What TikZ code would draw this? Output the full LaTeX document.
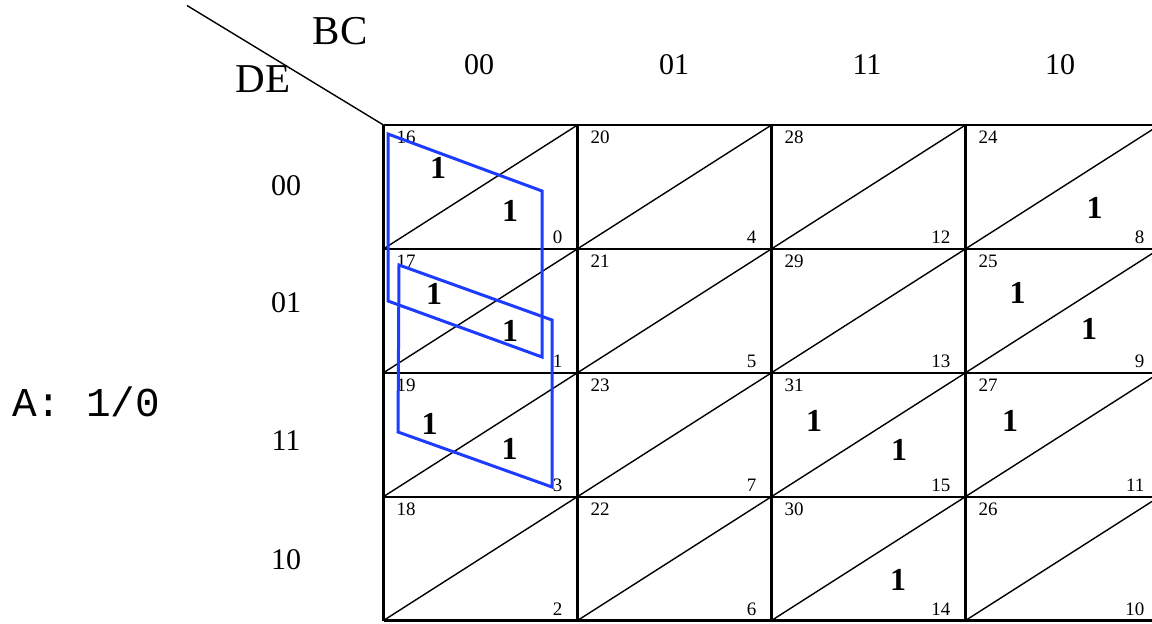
\documentclass[tikz,border=0pt]{standalone}
\usepackage{fontspec}
\setmainfont{Liberation Serif}
\newfontfamily\kmono{Liberation Mono}
\definecolor{kblue}{RGB}{30,60,255}
\begin{document}
\begin{tikzpicture}[x=1pt,y=-1pt,
  lbl/.style={inner sep=0pt, font=\fontsize{30}{30}\selectfont},
  big/.style={inner sep=0pt, font=\fontsize{41}{41}\selectfont},
  idx/.style={inner sep=0pt, font=\fontsize{19}{19}\selectfont},
  one/.style={inner sep=0pt, font=\fontsize{32}{32}\selectfont\bfseries},
  gridline/.style={line width=2.1pt},
  diagline/.style={line width=1.4pt},
  grp/.style={draw=kblue, line width=3pt, line join=miter}]
\fill[white] (0,0) rectangle (1152,624);
\clip (0,0) rectangle (1152,624);
% header diagonal
\coordinate (hs) at (187,5.5);
\coordinate (g00) at (383.5,125);
\draw[diagline] (hs) -- (g00);
\node[big] (bc) at (340,31) {BC};
\node[big] (de) at (263,79.5) {DE};
% column headers
\node[lbl] (c00) at (479,65) {00};
\node[lbl] (c01) at (674,65) {01};
\node[lbl] (c11) at (867,65) {11};
\node[lbl] (c10) at (1060,65) {10};
% row headers
\node[lbl] (r00) at (286,186) {00};
\node[lbl] (r01) at (286,303) {01};
\node[lbl] (r11) at (286,441) {11};
\node[lbl] (r10) at (286,560) {10};
\node[inner sep=0pt, anchor=base west, font=\kmono\fontsize{41}{41}\selectfont] (alab) at (12,416) {A: 1/0};
% grid
\foreach \i in {0,...,4} {
  \draw[gridline] ({383.5+194*\i},125) -- ({383.5+194*\i},620.5);
  \draw[gridline] (383.5,{125+123.875*\i}) -- (1159.5,{125+123.875*\i});
}
\foreach \c in {0,...,3} {
  \foreach \r in {0,...,3} {
    \draw[diagline] ({383.5+194*\c},{125+123.875*(\r+1)}) -- ({383.5+194*(\c+1)},{125+123.875*\r});
  }
}
% cell indices
\foreach \c/\r/\n in {0/0/0,1/0/4,2/0/12,3/0/8,
                      0/1/1,1/1/5,2/1/13,3/1/9,
                      0/2/3,1/2/7,2/2/15,3/2/11,
                      0/3/2,1/3/6,2/3/14,3/3/10} {
  \pgfmathtruncatemacro{\m}{\n+16}
  \node[idx, anchor=base west] (tl\m) at ({383.5+194*\c+13},{125+123.875*\r+18.5}) {\m};
  \node[idx, anchor=base east] (br\n) at ({383.5+194*(\c+1)-15},{125+123.875*(\r+1)-5.5}) {\n};
}
% ones
\node[one] (o16) at (438,167.5) {1};
\node[one] (o0) at (510,211) {1};
\node[one] (o8) at (1094.5,207.5) {1};
\node[one] (o17) at (434,294) {1};
\node[one] (o1) at (510,331) {1};
\node[one] (o25) at (1017.5,292.5) {1};
\node[one] (o9) at (1089,328.5) {1};
\node[one] (o19) at (429.5,424) {1};
\node[one] (o3) at (509.5,448.5) {1};
\node[one] (o31) at (814,421) {1};
\node[one] (o15) at (899,450) {1};
\node[one] (o27) at (1010,421) {1};
\node[one] (o14) at (898,580) {1};
% groups
\draw[grp] (388,134) -- (542,191) -- (542,357) -- (388,301) -- cycle;
\draw[grp] (399,265) -- (552,320) -- (552,487) -- (398,432) -- cycle;
\end{tikzpicture}
\end{document}
